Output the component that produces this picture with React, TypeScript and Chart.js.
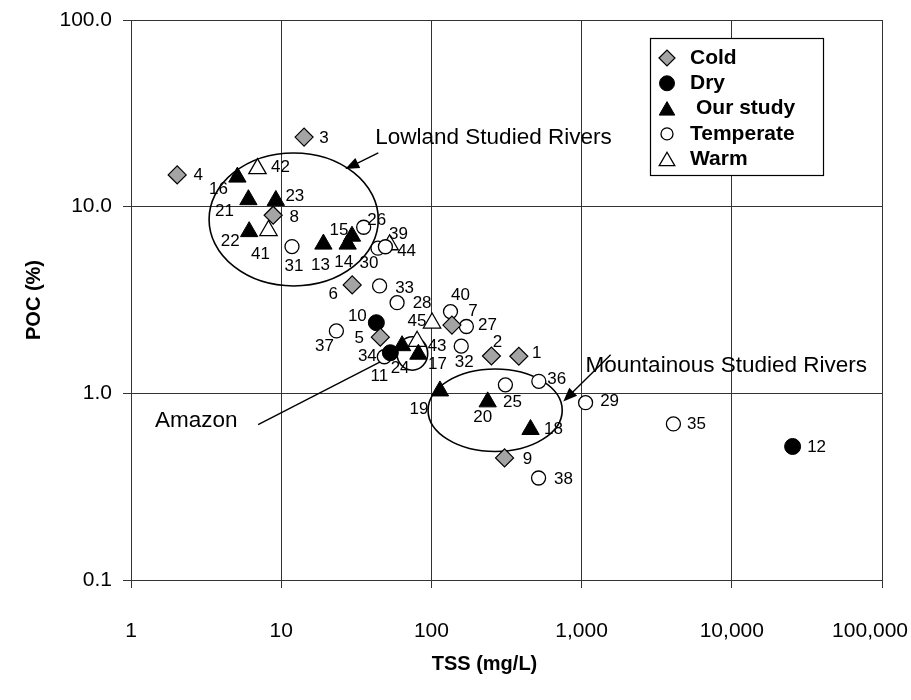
import React, { useEffect, useRef } from "react";
import { Chart, registerables } from "chart.js";
import { drawPoint } from "chart.js/helpers";

Chart.register(...registerables);

const FONT = '"Liberation Sans", Arial, Helvetica, sans-serif';
const CANVAS_W = 911;
const CANVAS_H = 700;

// ---- tick values ----
const xTicks = [1, 10, 100, 1000, 10000, 100000];
const yTicks = [0.1, 1, 10, 100];

// ---- series (TSS mg/L, POC %) ----
const coldIds = [1, 2, 3, 4, 5, 6, 7, 8, 9];
const coldTSS = [382, 251, 14.2, 2.03, 45.7, 29.7, 137, 8.84, 307];
const coldPOC = [1.58, 1.585, 23.6, 14.8, 2.0, 3.81, 2.32, 9.0, 0.451];

const dryIds = [10, 11, 12];
const dryTSS = [43, 53.3, 25400];
const dryPOC = [2.39, 1.65, 0.519];

const studyIds = [13, 14, 15, 16, 17, 18, 19, 20, 21, 22, 23, 24];
const studyTSS = [19.1, 27.7, 29.6, 5.11, 81.9, 457, 114, 237, 6.05, 6.12, 9.21, 63.8];
const studyPOC = [6.3, 6.3, 6.95, 14.4, 1.62, 0.64, 1.03, 0.9, 10.9, 7.35, 10.8, 1.8];

const temperateIds = [25, 26, 27, 28, 29, 30, 31, 32, 33, 34, 35, 36, 37, 38, 39, 40];
const temperateTSS = [311, 35.4, 171, 59.1, 1063, 44.1, 11.8, 158, 45.2, 48.6, 4085, 519, 23.3, 517, 49.4, 134];
const temperatePOC = [1.11, 7.76, 2.28, 3.06, 0.891, 5.99, 6.11, 1.79, 3.76, 1.57, 0.686, 1.16, 2.16, 0.352, 6.1, 2.74];

const warmIds = [41, 42, 43, 44, 45];
const warmTSS = [8.23, 6.95, 80.3, 52.7, 101];
const warmPOC = [7.45, 16.0, 1.9, 6.25, 2.38];

// ---- point label offsets (px, relative to marker) ----
const labelOffsets: Record<number, [number, number]> = {
  1: [18, -3], 2: [6, -14], 3: [20, 1], 4: [21, 0], 5: [-21, 1], 6: [-19, 9], 7: [21, -14], 8: [21, 2], 9: [23, 1],
  10: [-19, -6], 11: [-11, 24], 12: [24, 1],
  13: [-3, 21], 14: [-4, 18], 15: [-13, -6], 16: [-19, 12], 17: [19, 10], 18: [23, 0], 19: [-21, 18], 20: [-5, 15],
  21: [-24, 12], 22: [-19, 10], 23: [19, -4], 24: [-2, 23],
  25: [7, 17], 26: [13, -7], 27: [21, -1], 28: [25, 1], 29: [24, -1], 30: [-9, 15], 31: [2, 20], 32: [3, 16], 33: [25, 2],
  34: [-17, 0], 35: [23, 0], 36: [18, -2], 37: [-12, 15], 38: [25, 1], 39: [13, -12], 40: [10, -16],
  41: [-8, 24], 42: [23, -1], 43: [20, 5], 44: [17, 7], 45: [-15, -2],
};

// ---- annotations (data coordinates) ----
const ellipseBounds = [
  { x0: 3.31, x1: 44.3, y0: 3.76, y1: 19.4 },
  { x0: 95, x1: 743, y0: 0.488, y1: 1.35 },
  { x0: 59, x1: 94.5, y0: 1.33, y1: 2.01 },
];
const annotationTexts = [
  { text: "Lowland Studied Rivers", x: 42.3, y: 23.4 },
  { text: "Mountainous Studied Rivers", x: 1063, y: 1.4 },
  { text: "Amazon", x: 1.445, y: 0.711 },
];
const arrows = [
  { fx: 44.3, fy: 19.4, tx: 26.7, ty: 15.9, head: true },
  { fx: 1561, fy: 1.61, tx: 755, ty: 0.904, head: true },
  { fx: 7.02, fy: 0.68, tx: 53, ty: 1.567, head: false },
];

const legendItems = ["Cold", "Dry", "Our study", "Temperate", "Warm"];

const overlayPlugin = {
  id: "overlay",
  beforeDatasetsDraw(chart: any) {
    const { ctx, scales } = chart;
    const xs = scales.x;
    const ys = scales.y;
    ctx.save();
    ctx.strokeStyle = "#000";
    ctx.lineWidth = 1.6;
    ellipseBounds.forEach((e) => {
      const a = xs.getPixelForValue(e.x0);
      const b = xs.getPixelForValue(e.x1);
      const c = ys.getPixelForValue(e.y1);
      const d = ys.getPixelForValue(e.y0);
      ctx.beginPath();
      ctx.ellipse((a + b) / 2, (c + d) / 2, (b - a) / 2, (d - c) / 2, 0, 0, Math.PI * 2);
      ctx.stroke();
    });
    ctx.lineWidth = 1.4;
    arrows.forEach((ar) => {
      const fx = xs.getPixelForValue(ar.fx);
      const fy = ys.getPixelForValue(ar.fy);
      const tx = xs.getPixelForValue(ar.tx);
      const ty = ys.getPixelForValue(ar.ty);
      const ang = Math.atan2(ty - fy, tx - fx);
      const headLen = 15;
      const endX = ar.head ? tx - Math.cos(ang) * headLen * 0.8 : tx;
      const endY = ar.head ? ty - Math.sin(ang) * headLen * 0.8 : ty;
      ctx.beginPath();
      ctx.moveTo(fx, fy);
      ctx.lineTo(endX, endY);
      ctx.stroke();
      if (ar.head) {
        ctx.fillStyle = "#000";
        ctx.beginPath();
        ctx.moveTo(tx, ty);
        ctx.lineTo(tx - Math.cos(ang - 0.38) * headLen, ty - Math.sin(ang - 0.38) * headLen);
        ctx.lineTo(tx - Math.cos(ang + 0.38) * headLen, ty - Math.sin(ang + 0.38) * headLen);
        ctx.closePath();
        ctx.fill();
      }
    });
    ctx.fillStyle = "#000";
    ctx.font = `22.5px ${FONT}`;
    ctx.textAlign = "left";
    ctx.textBaseline = "middle";
    annotationTexts.forEach((t) => {
      ctx.fillText(t.text, xs.getPixelForValue(t.x), ys.getPixelForValue(t.y));
    });
    ctx.restore();
  },
  afterDatasetsDraw(chart: any) {
    const { ctx, chartArea, scales } = chart;
    ctx.save();
    // point labels
    ctx.fillStyle = "#000";
    ctx.font = `17px ${FONT}`;
    ctx.textAlign = "center";
    ctx.textBaseline = "middle";
    chart.data.datasets.forEach((ds: any, di: number) => {
      const meta = chart.getDatasetMeta(di);
      meta.data.forEach((el: any, i: number) => {
        const id = ds.ids[i];
        const off = labelOffsets[id] || [20, 0];
        ctx.fillText(String(id), el.x + off[0], el.y + off[1]);
      });
    });

    // x tick labels (kept inside the canvas)
    ctx.font = `21px ${FONT}`;
    ctx.textAlign = "center";
    ctx.textBaseline = "middle";
    xTicks.forEach((v) => {
      const label = v.toLocaleString("en-US");
      const w = ctx.measureText(label).width;
      let px = scales.x.getPixelForValue(v);
      px = Math.min(px, CANVAS_W - 3 - w / 2);
      ctx.fillText(label, px, chartArea.bottom + 51);
    });

    // legend
    const bx = chartArea.left + 519;
    const by = chartArea.top + 18;
    const bw = 173;
    const bh = 137;
    ctx.fillStyle = "#fff";
    ctx.fillRect(bx, by, bw, bh);
    ctx.strokeStyle = "#000";
    ctx.lineWidth = 1.2;
    ctx.strokeRect(bx + 0.5, by + 0.5, bw, bh);
    const legendSizes = [8, 7.5, 9, 6, 9];
    chart.data.datasets.forEach((ds: any, di: number) => {
      const cy = by + 20 + di * 25.3;
      const cx = bx + 17;
      ctx.fillStyle = ds.backgroundColor;
      ctx.strokeStyle = ds.borderColor;
      ctx.lineWidth = ds.borderWidth;
      drawPoint(ctx, { pointStyle: ds.pointStyle, radius: legendSizes[di], rotation: 0, borderWidth: ds.borderWidth }, cx, ds.pointStyle === "triangle" ? cy + 2 : cy);
      ctx.fillStyle = "#000";
      ctx.font = `bold 21px ${FONT}`;
      ctx.textAlign = "left";
      ctx.textBaseline = "middle";
      ctx.fillText(legendItems[di], bx + (di === 2 ? 46 : 40), cy);
    });

    // axis titles
    ctx.fillStyle = "#000";
    ctx.font = `bold 20px ${FONT}`;
    ctx.textAlign = "center";
    ctx.textBaseline = "middle";
    ctx.fillText("TSS (mg/L)", (chartArea.left + chartArea.right) / 2 - 22, chartArea.bottom + 84);
    ctx.save();
    ctx.translate(chartArea.left - 97, (chartArea.top + chartArea.bottom) / 2);
    ctx.rotate(-Math.PI / 2);
    ctx.fillText("POC (%)", 0, 0);
    ctx.restore();
    ctx.restore();
  },
};

function toPoints(xsArr: number[], ysArr: number[]) {
  return xsArr.map((x, i) => ({ x, y: ysArr[i] }));
}

export default function App() {
  const ref = useRef<HTMLCanvasElement | null>(null);
  useEffect(() => {
    if (!ref.current) return;
    const chart = new Chart(ref.current, {
      type: "scatter",
      data: {
        datasets: [
          {
            label: "Cold", ids: coldIds, data: toPoints(coldTSS, coldPOC),
            pointStyle: "rectRot", pointRadius: 9, backgroundColor: "#a4a4a4", borderColor: "#000", borderWidth: 1.2,
          } as any,
          {
            label: "Dry", ids: dryIds, data: toPoints(dryTSS, dryPOC),
            pointStyle: "circle", pointRadius: 8, backgroundColor: "#000", borderColor: "#000", borderWidth: 1,
          } as any,
          {
            label: "Our study", ids: studyIds, data: toPoints(studyTSS, studyPOC),
            pointStyle: "triangle", pointRadius: 10, backgroundColor: "#000", borderColor: "#000", borderWidth: 1,
          } as any,
          {
            label: "Temperate", ids: temperateIds, data: toPoints(temperateTSS, temperatePOC),
            pointStyle: "circle", pointRadius: 7, backgroundColor: "#fff", borderColor: "#000", borderWidth: 1.3,
          } as any,
          {
            label: "Warm", ids: warmIds, data: toPoints(warmTSS, warmPOC),
            pointStyle: "triangle", pointRadius: 10, backgroundColor: "#fff", borderColor: "#000", borderWidth: 1.3,
          } as any,
        ],
      },
      options: {
        responsive: false,
        animation: false,
        events: [],
        layout: { padding: { top: 20, right: 29, left: 0, bottom: 0 } },
        plugins: { legend: { display: false }, tooltip: { enabled: false }, title: { display: false } },
        scales: {
          x: {
            type: "logarithmic",
            min: 1,
            max: 100000,
            afterBuildTicks: (s: any) => { s.ticks = xTicks.map((v) => ({ value: v })); },
            afterFit: (s: any) => { s.height = 120; s.paddingLeft = 0; s.paddingRight = 0; },
            ticks: { display: false, autoSkip: false, maxRotation: 0 },
            grid: { color: "#333", lineWidth: 1, tickLength: 8 },
            border: { color: "#333", width: 1 },
          },
          y: {
            type: "logarithmic",
            min: 0.1,
            max: 100,
            afterBuildTicks: (s: any) => { s.ticks = yTicks.map((v) => ({ value: v })); },
            afterFit: (s: any) => { s.width = 131; s.paddingTop = 0; s.paddingBottom = 0; },
            ticks: {
              callback: (v: any) => Number(v).toFixed(1),
              font: { family: FONT, size: 21 },
              color: "#000",
              padding: 11,
              autoSkip: false,
            },
            grid: { color: "#333", lineWidth: 1, tickLength: 8 },
            border: { color: "#333", width: 1 },
          },
        },
      } as any,
      plugins: [overlayPlugin],
    });
    return () => chart.destroy();
  }, []);
  return (
    <div style={{ position: "absolute", left: 0, top: 0, width: CANVAS_W, height: CANVAS_H }}>
      <canvas ref={ref} width={CANVAS_W} height={CANVAS_H} style={{ display: "block" }} />
    </div>
  );
}
